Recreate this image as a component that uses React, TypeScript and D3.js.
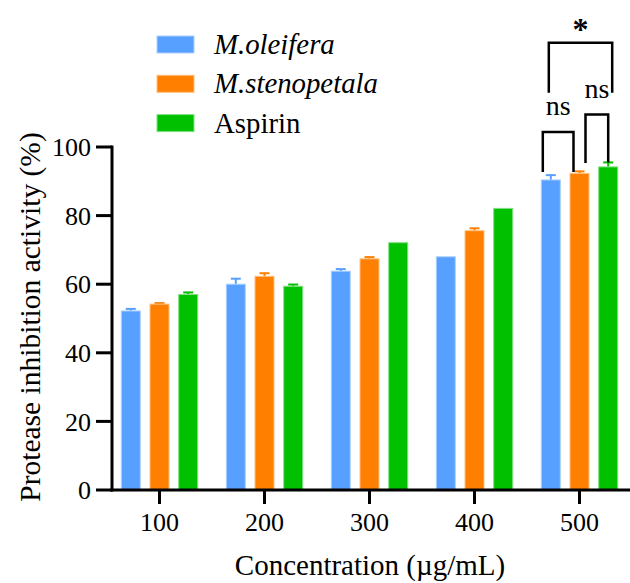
import * as d3 from "d3";

const categories = ["100", "200", "300", "400", "500"];
const seriesNames = ["M.oleifera", "M.stenopetala", "Aspirin"];
const oleifera = [52.2, 60.0, 63.8, 68.0, 90.4];
const oleiferaErr = [0.6, 1.6, 0.6, 0, 1.4];
const stenopetala = [54.2, 62.3, 67.4, 75.6, 92.3];
const stenopetalaErr = [0.3, 0.9, 0.5, 0.7, 0.6];
const aspirin = [57.0, 59.4, 72.1, 82.1, 94.2];
const aspirinErr = [0.6, 0.5, 0, 0, 1.3];
const yTicks = [0, 20, 40, 60, 80, 100];

// significance brackets at 500 µg/mL: series indices, levels in data units
const brackets = [
  { from: 0, to: 1, dxFrom: -8, dxTo: -6, top: 104.4, bottomFrom: 92.7, bottomTo: 92.7, label: "ns", labelY: 109.3, bold: false },
  { from: 1, to: 2, dxFrom: 6, dxTo: 0, top: 109.5, bottomFrom: 95.3, bottomTo: 95.5, label: "ns", labelY: 114.2, bold: false },
  { from: 0, to: 2, dxFrom: -2, dxTo: 4, top: 130.4, bottomFrom: 115.8, bottomTo: 115.8, label: "*", labelY: 131.5, bold: true },
];

const colors = ["#58a0ff", "#ff8000", "#00c000"];
const font = "Liberation Serif";

export default function App() {
  const width = 630;
  const height = 583;
  const axisX = 112;

  const y = d3.scaleLinear().domain([0, 100]).range([490, 147]);
  const x = d3.scaleBand().domain(categories).range([107, 632]);
  const sub = d3.scalePoint().domain(seriesNames).range([-28.7, 28.7]);
  const barW = 19;

  const values = [oleifera, stenopetala, aspirin];
  const errs = [oleiferaErr, stenopetalaErr, aspirinErr];
  const cx = (ci: number, si: number) =>
    (x(categories[ci]) as number) + x.bandwidth() / 2 + (sub(seriesNames[si]) as number);

  const lastCat = categories.length - 1;
  const txt = { fontFamily: font };

  return (
    <svg
      width={width}
      height={height}
      style={{ position: "absolute", left: 0, top: 0, background: "#fff" }}
    >
      {/* bars */}
      {values.map((vals, si) =>
        vals.map((v, ci) => {
          const c = cx(ci, si);
          const e = errs[si][ci];
          return (
            <g key={`${si}-${ci}`}>
              {e > 0 && (
                <g stroke={colors[si]} strokeWidth={2}>
                  <line x1={c} x2={c} y1={y(v)} y2={y(v + e)} />
                  <line x1={c - 5} x2={c + 5} y1={y(v + e)} y2={y(v + e)} />
                </g>
              )}
              <rect
                x={c - barW / 2}
                y={y(v)}
                width={barW}
                height={y(0) - y(v)}
                fill={colors[si]}
                stroke={d3.interpolateRgb(colors[si], "#fff")(0.5)}
                strokeWidth={1}
              />
            </g>
          );
        })
      )}

      {/* y axis */}
      <line x1={axisX} x2={axisX} y1={y(100) - 1.5} y2={y(0) + 1.5} stroke="#000" strokeWidth={3} />
      {yTicks.map((t) => (
        <g key={t}>
          <line x1={axisX - 16} x2={axisX} y1={y(t)} y2={y(t)} stroke="#000" strokeWidth={3} />
          <text x={91} y={y(t)} dy="0.35em" textAnchor="end" fontSize={26} style={txt}>
            {t}
          </text>
        </g>
      ))}

      {/* x axis */}
      <line x1={axisX - 1.5} x2={width} y1={y(0)} y2={y(0)} stroke="#000" strokeWidth={3} />
      {categories.map((c) => {
        const px = (x(c) as number) + x.bandwidth() / 2;
        return (
          <g key={c}>
            <line x1={px} x2={px} y1={y(0)} y2={y(0) + 14} stroke="#000" strokeWidth={3} />
            <text x={px} y={531} textAnchor="middle" fontSize={26} style={txt}>
              {c}
            </text>
          </g>
        );
      })}

      {/* axis titles */}
      <text x={370} y={575} textAnchor="middle" fontSize={29} style={txt}>
        Concentration (µg/mL)
      </text>
      <text
        transform={`translate(40, ${317}) rotate(-90)`}
        textAnchor="middle"
        fontSize={29.5}
        style={txt}
      >
        Protease inhibition activity (%)
      </text>

      {/* legend */}
      {seriesNames.map((s, i) => (
        <g key={s} transform={`translate(157, ${44.5 + i * 39.3})`}>
          <rect x={0} y={-8.5} width={37} height={17} fill={colors[i]} stroke={d3.interpolateRgb(colors[i], "#fff")(0.5)} strokeWidth={1} />
          <text x={57} y={9.5} fontSize={28.8} fontStyle={i < 2 ? "italic" : "normal"} style={txt}>
            {s}
          </text>
        </g>
      ))}

      {/* significance brackets */}
      {brackets.map((b, i) => {
        const x1 = cx(lastCat, b.from) + b.dxFrom;
        const x2 = cx(lastCat, b.to) + b.dxTo;
        const path = `M${x1},${y(b.bottomFrom)}V${y(b.top)}H${x2}V${y(b.bottomTo)}`;
        return (
          <g key={i}>
            <path d={path} fill="none" stroke="#000" strokeWidth={2.5} />
            <text
              x={(x1 + x2) / 2}
              y={b.bold ? 40 : y(b.labelY)}
              textAnchor="middle"
              fontSize={b.bold ? 32 : 28}
              fontWeight={b.bold ? "bold" : "normal"}
              style={txt}
            >
              {b.label}
            </text>
          </g>
        );
      })}
    </svg>
  );
}
